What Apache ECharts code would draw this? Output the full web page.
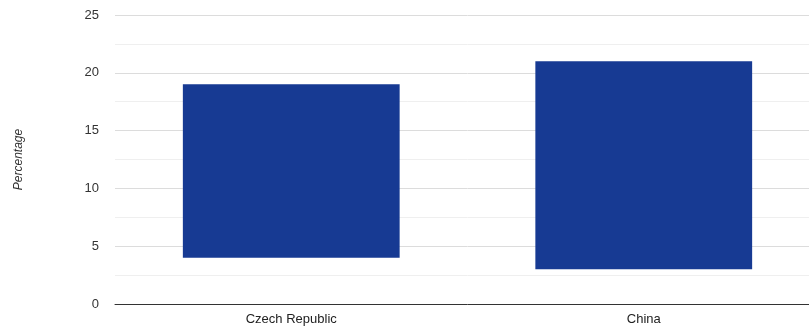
<!DOCTYPE html>
<html>
<head>
<meta charset="utf-8">
<style>
  html, body { margin: 0; padding: 0; background: #fff; overflow: hidden; }
  #chart { width: 820px; height: 329px; }
</style>
<script src="https://cdn.jsdelivr.net/npm/echarts@6/dist/echarts.min.js"></script>
</head>
<body>
<div id="chart"></div>
<script>
const countries = ['Czech Republic', 'China']
const lowValues = [4, 3]
const highValues = [19, 21]
const yTicks = [0, 5, 10, 15, 20, 25]

const chart = echarts.init(document.getElementById('chart'))

// floating bars: invisible base + visible span
const spans = highValues.map((h, i) => h - lowValues[i])

const option = {
  animation: false,
  textStyle: { fontFamily: 'Helvetica, Arial, "Liberation Sans", sans-serif' },
  grid: { left: 115, right: 0, top: 15, bottom: 25 },
  xAxis: {
    type: 'category',
    data: countries,
    axisLine: { lineStyle: { color: '#333', width: 1 } },
    axisTick: { show: false },
    axisLabel: { color: '#222', fontSize: 13, margin: 9 }
  },
  yAxis: {
    type: 'value',
    min: yTicks[0],
    max: yTicks[yTicks.length - 1],
    interval: 5,
    name: 'Percentage',
    nameLocation: 'middle',
    nameGap: 90,
    nameTextStyle: { color: '#333', fontSize: 12, fontStyle: 'italic' },
    axisLine: { show: false },
    axisTick: { show: false },
    axisLabel: { color: '#333', fontSize: 13, margin: 16 },
    splitLine: { lineStyle: { color: '#dcdcdc' } },
    minorTick: { show: false, splitNumber: 2 },
    minorSplitLine: { show: true, lineStyle: { color: '#efefef' } }
  },
  series: [
    {
      type: 'bar',
      stack: 'range',
      data: lowValues,
      barWidth: '61.5%',
      itemStyle: { color: 'transparent' },
      silent: true
    },
    {
      type: 'bar',
      stack: 'range',
      data: spans,
      barWidth: '61.5%',
      itemStyle: { color: '#173a93' }
    }
  ]
}

chart.setOption(option)
</script>
</body>
</html>
